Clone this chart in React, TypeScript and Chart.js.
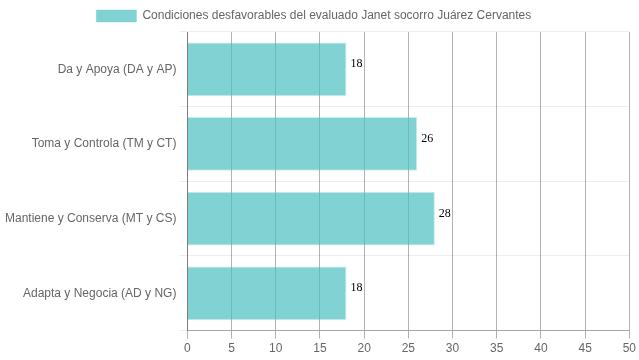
import React, { useEffect, useRef } from "react";
import { Chart, registerables } from "chart.js";

Chart.register(...registerables);

const categories = [
  "Da y Apoya (DA y AP)",
  "Toma y Controla (TM y CT)",
  "Mantiene y Conserva (MT y CS)",
  "Adapta y Negocia (AD y NG)",
];
const values = [18, 26, 28, 18];
const seriesLabel = "Condiciones desfavorables del evaluado Janet socorro Juárez Cervantes";
const xTicksMax = 50;
const xTickStep = 5;

const valueLabels = {
  id: "valueLabels",
  afterDatasetsDraw(chart: any) {
    const ctx = chart.ctx;
    const meta = chart.getDatasetMeta(0);
    ctx.save();
    ctx.font = "12px 'Liberation Serif', 'DejaVu Serif', serif";
    ctx.fillStyle = "#000";
    ctx.textAlign = "left";
    ctx.textBaseline = "alphabetic";
    meta.data.forEach((bar: any, i: number) => {
      ctx.fillText(String(chart.data.datasets[0].data[i]), bar.x + 4, bar.y - 2);
    });
    ctx.restore();
  },
};

export default function App() {
  const ref = useRef<HTMLCanvasElement>(null);
  useEffect(() => {
    document.body.style.margin = "0";
    const chart = new Chart(ref.current!, {
      type: "bar",
      data: {
        labels: categories,
        datasets: [
          {
            label: seriesLabel,
            data: values,
            backgroundColor: "rgba(75,192,192,0.7)",
            borderColor: "rgba(75,192,192,0.3)",
            borderWidth: 1,
          },
        ],
      },
      options: {
        indexAxis: "y",
        responsive: false,
        animation: false,
        layout: { padding: { left: 2, bottom: 1 } },
        plugins: {
          legend: {
            position: "top",
            labels: {
              color: "#666",
              font: { size: 12 },
              boxWidth: 40,
              generateLabels(c: any) {
                const items = Chart.defaults.plugins.legend.labels.generateLabels(c);
                items.forEach((it: any) => {
                  it.text = it.text + "    ";
                });
                return items;
              },
            },
          },
          tooltip: { enabled: false },
        },
        scales: {
          x: {
            min: 0,
            max: xTicksMax,
            ticks: { stepSize: xTickStep, color: "#666", font: { size: 12 } },
            grid: { color: "rgba(0,0,0,0.3)", drawOnChartArea: true },
            border: { color: "rgba(0,0,0,0.3)" },
          },
          y: {
            ticks: { color: "#666", font: { size: 12 } },
            grid: { color: "rgba(0,0,0,0.07)", offset: true },
            border: { color: "rgba(0,0,0,0.3)" },
          },
        },
      },
      plugins: [valueLabels],
    });
    return () => chart.destroy();
  }, []);
  return <canvas ref={ref} width={639} height={360} style={{ display: "block" }} />;
}
